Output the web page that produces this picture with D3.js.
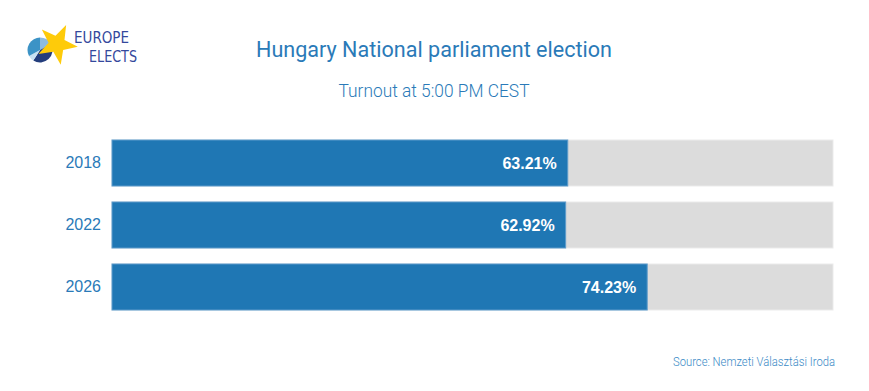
<!DOCTYPE html>
<html>
<head>
<meta charset="utf-8">
<script src="https://cdn.jsdelivr.net/npm/d3@7"></script>
<style>
  body { margin: 0; background: #fff; }
  svg { display: block; }
</style>
</head>
<body>
<div id="chart"></div>
<script>
// data
const years = ['2018', '2022', '2026'];
const turnout = [63.21, 62.92, 74.23];
const maxTurnout = 100;

const title = 'Hungary National parliament election';
const subtitle = 'Turnout at 5:00 PM CEST';
const source = 'Source: Nemzeti Választási Iroda';

// logo pie parts
const logoSlices = [17, 42, 8, 33];
const logoColors = ['#8dbbe0', '#233d7c', '#c9e1f2', '#3c93c6'];

const width = 869, height = 391;
const blue = '#1f77b4';
const textBlue = '#2a7ab8';

let svg = d3.select('#chart').append('svg')
  .attr('width', width)
  .attr('height', height);

// logo
let logo = svg.append('g');
let pie = d3.pie().sort(null);
let arc = d3.arc().innerRadius(0).outerRadius(12.5);
logo.append('g')
  .attr('transform', 'translate(40,50)')
  .selectAll('path')
  .data(pie(logoSlices))
  .join('path')
  .attr('d', arc)
  .attr('fill', (d, i) => logoColors[i]);

let starPts = [];
for (let i = 0; i < 10; i++) {
  let r = i % 2 === 0 ? 21 : 8.5;
  let a = -Math.PI / 2 + 0.45 + i * Math.PI / 5;
  starPts.push([r * Math.cos(a), r * Math.sin(a)]);
}
logo.append('path')
  .attr('transform', 'translate(57,44)')
  .attr('d', d3.line()(starPts) + 'Z')
  .attr('fill', '#fecb0a');

logo.append('text')
  .attr('x', 74).attr('y', 43)
  .attr('font-family', 'DejaVu Sans Condensed, DejaVu Sans')
  .attr('font-size', 15)
  .attr('textLength', 55)
  .attr('lengthAdjust', 'spacingAndGlyphs')
  .attr('fill', '#34489c')
  .text('EUROPE');
logo.append('text')
  .attr('x', 89).attr('y', 62)
  .attr('font-family', 'DejaVu Sans Condensed, DejaVu Sans')
  .attr('font-size', 15)
  .attr('textLength', 48)
  .attr('lengthAdjust', 'spacingAndGlyphs')
  .attr('fill', '#34489c')
  .text('ELECTS');

// titles
svg.append('text')
  .attr('x', 434).attr('y', 57)
  .attr('text-anchor', 'middle')
  .attr('font-family', 'Roboto, sans-serif')
  .attr('font-size', 22)
  .attr('textLength', 356)
  .attr('lengthAdjust', 'spacingAndGlyphs')
  .attr('fill', textBlue)
  .text(title);

svg.append('text')
  .attr('x', 434).attr('y', 97)
  .attr('text-anchor', 'middle')
  .attr('font-family', 'Roboto, sans-serif')
  .attr('font-weight', 300)
  .attr('font-size', 18)
  .attr('textLength', 191)
  .attr('lengthAdjust', 'spacingAndGlyphs')
  .attr('fill', textBlue)
  .text(subtitle);

svg.append('text')
  .attr('x', 835).attr('y', 366)
  .attr('text-anchor', 'end')
  .attr('font-family', 'Roboto, sans-serif')
  .attr('font-weight', 300)
  .attr('font-size', 13)
  .attr('textLength', 162)
  .attr('lengthAdjust', 'spacingAndGlyphs')
  .attr('fill', '#3a8ac6')
  .text(source);

// scales
let xScale = d3.scaleLinear().domain([0, maxTurnout]).range([112, 833]);
let yScale = d3.scaleBand().domain(years).range([140, 310]).paddingInner(0.258);

let rows = years.map((y, i) => ({ year: y, value: turnout[i] }));

// background bars
svg.append('g')
  .selectAll('rect')
  .data(rows)
  .join('rect')
  .attr('x', xScale(0))
  .attr('y', (d) => yScale(d.year))
  .attr('width', xScale(maxTurnout) - xScale(0))
  .attr('height', yScale.bandwidth())
  .attr('fill', '#dcdcdc')
  .attr('stroke', '#ebebeb')
  .attr('stroke-width', 1);

// value bars
svg.append('g')
  .selectAll('rect')
  .data(rows)
  .join('rect')
  .attr('x', xScale(0))
  .attr('y', (d) => yScale(d.year))
  .attr('width', (d) => xScale(d.value) - xScale(0))
  .attr('height', yScale.bandwidth())
  .attr('fill', blue)
  .attr('stroke', '#5d9bcb')
  .attr('stroke-width', 1);

// value labels
svg.append('g')
  .selectAll('text')
  .data(rows)
  .join('text')
  .attr('x', (d) => xScale(d.value) - 11)
  .attr('y', (d) => yScale(d.year) + yScale.bandwidth() / 2)
  .attr('dy', '0.36em')
  .attr('text-anchor', 'end')
  .attr('font-family', 'Liberation Sans, Arial, sans-serif')
  .attr('font-weight', 'bold')
  .attr('font-size', 16)
  .attr('fill', '#fff')
  .text((d) => d.value.toFixed(2) + '%');

// year axis
let yAxis = d3.axisLeft(yScale).tickSize(0).tickPadding(11);
let ag = svg.append('g')
  .attr('transform', 'translate(112,0)')
  .call(yAxis);
ag.select('.domain').remove();
ag.selectAll('text')
  .attr('font-family', 'Liberation Sans, Arial, sans-serif')
  .attr('font-size', 16)
  .attr('fill', textBlue);
</script>
</body>
</html>
